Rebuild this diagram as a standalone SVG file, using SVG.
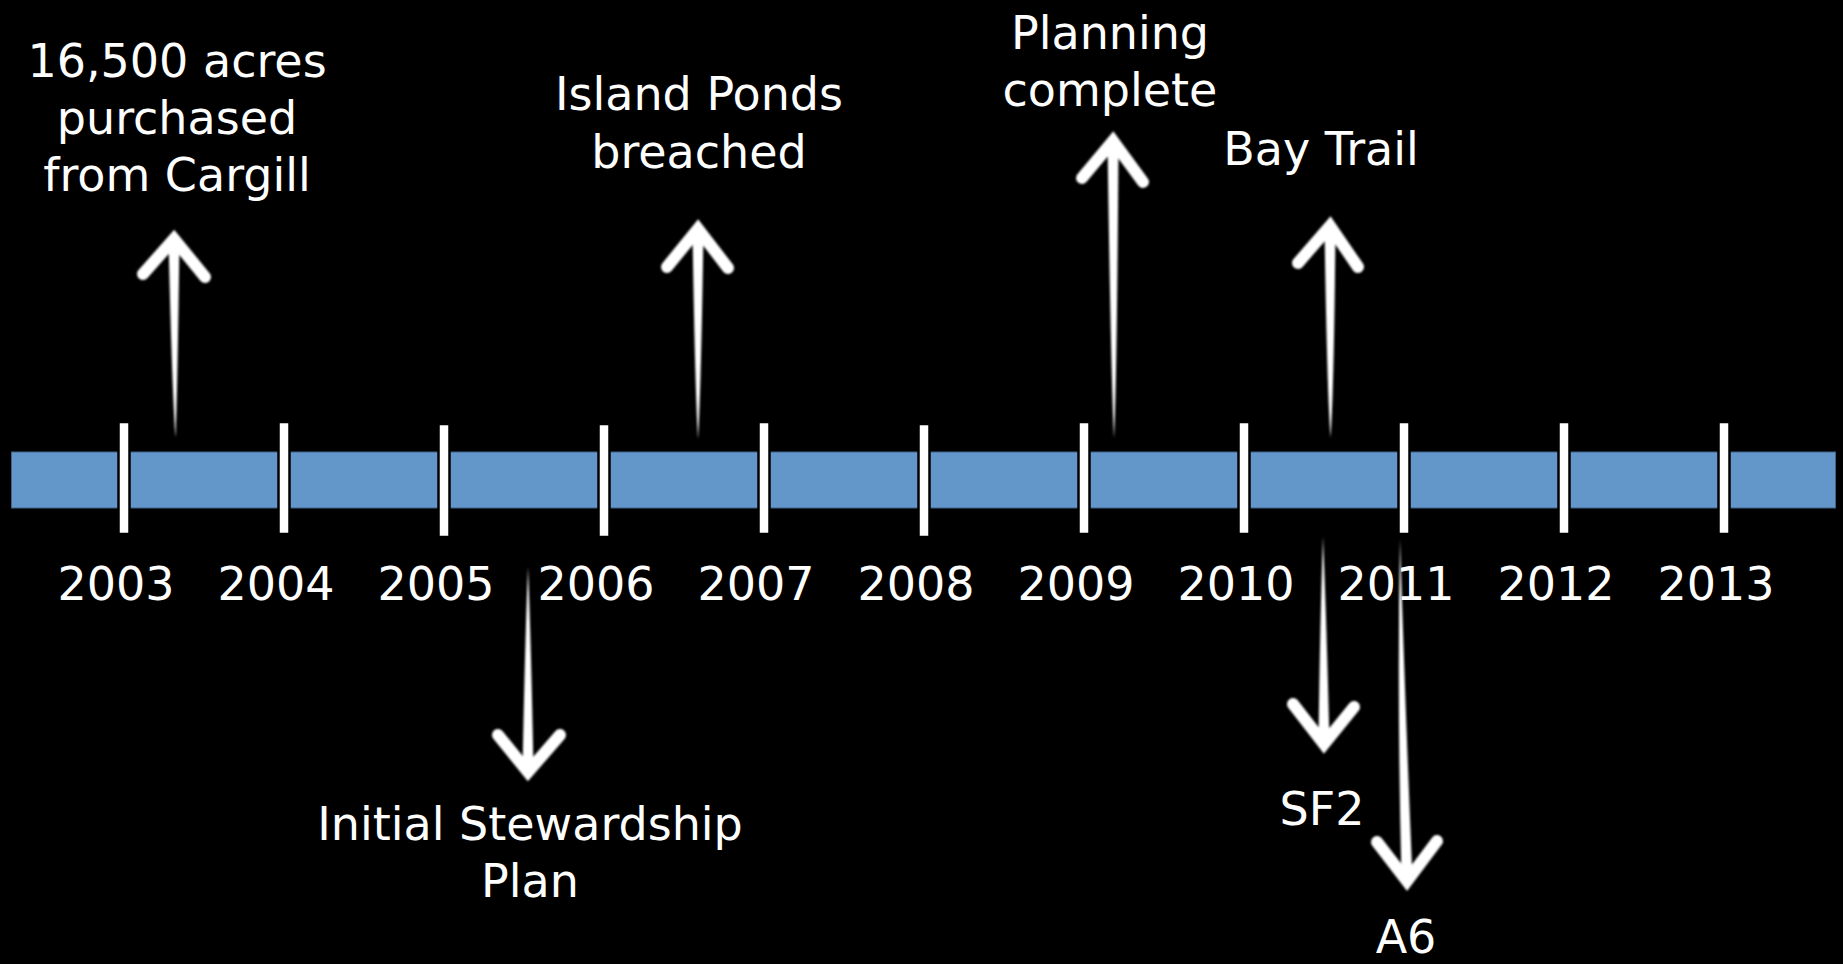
<svg xmlns="http://www.w3.org/2000/svg" width="1843" height="964" viewBox="0 0 1843 964">
<style>
text{font-family:"DejaVu Sans","Liberation Sans",sans-serif;font-size:46px;fill:#fff;text-anchor:middle}
.tick{fill:#fff;stroke:#000;stroke-width:2.5}
.shaft{fill:#fff;stroke:none}
.head{fill:none;stroke:#fff;stroke-width:12;stroke-linejoin:miter;stroke-miterlimit:10;stroke-linecap:round}
</style>
<defs>
<filter id="soft" x="-20%" y="-5%" width="140%" height="110%"><feGaussianBlur stdDeviation="0.8"/></filter>
</defs>
<rect width="1843" height="964" fill="#000"/>
<g id="timeline">
<rect x="11.5" y="452" width="1824" height="56" fill="#6397CA" stroke="#3f6489" stroke-width="1"/>
<rect class="tick" x="118.5" y="422" width="11" height="112"/>
<rect class="tick" x="278.5" y="422" width="11" height="112"/>
<rect class="tick" x="438.5" y="424" width="11" height="113"/>
<rect class="tick" x="598.5" y="424" width="11" height="113"/>
<rect class="tick" x="758.5" y="422" width="11" height="112"/>
<rect class="tick" x="918.5" y="424" width="11" height="113"/>
<rect class="tick" x="1078.5" y="422" width="11" height="112"/>
<rect class="tick" x="1238.5" y="422" width="11" height="112"/>
<rect class="tick" x="1398.5" y="422" width="11" height="112"/>
<rect class="tick" x="1558.5" y="422" width="11" height="112"/>
<rect class="tick" x="1718.5" y="422" width="11" height="112"/>
</g>
<g id="years">
<text x="116" y="600">2003</text>
<text x="276" y="600">2004</text>
<text x="436" y="600">2005</text>
<text x="596" y="600">2006</text>
<text x="756" y="600">2007</text>
<text x="916" y="600">2008</text>
<text x="1076" y="600">2009</text>
<text x="1236" y="600">2010</text>
<text x="1396" y="600">2011</text>
<text x="1556" y="600">2012</text>
<text x="1716" y="600">2013</text>
</g>
<g id="event-cargill">
<text x="177" y="77">16,500 acres</text>
<text x="177" y="134">purchased</text>
<text x="177" y="191">from Cargill</text>
</g>
<g id="event-island-ponds">
<text x="699" y="110">Island Ponds</text>
<text x="699" y="168">breached</text>
</g>
<g id="event-planning">
<text x="1110" y="49">Planning</text>
<text x="1110" y="106">complete</text>
</g>
<g id="event-bay-trail">
<text x="1321" y="165">Bay Trail</text>
</g>
<g id="event-stewardship">
<text x="530" y="840">Initial Stewardship</text>
<text x="530" y="897">Plan</text>
</g>
<g id="event-sf2">
<text x="1322" y="825">SF2</text>
</g>
<g id="event-a6">
<text x="1406" y="953">A6</text>
</g>
<g id="connectors" filter="url(#soft)">
<path class="shaft" d="M168.5,240 L179.5,240 Q177.5,390 175.5,438 Q172,390 168.5,240 Z"/>
<polyline class="head" points="143,274 174,239 205,277"/>
<path class="shaft" d="M692.5,231 L703.5,231 Q701,390 698,439 Q695,390 692.5,231 Z"/>
<polyline class="head" points="667,267 698,229 728,268"/>
<path class="shaft" d="M1107.5,143 L1118.5,143 Q1117,380 1114,438 Q1111,380 1107.5,143 Z"/>
<polyline class="head" points="1082,178 1113,141 1143,182"/>
<path class="shaft" d="M1324.5,228 L1335.5,228 Q1334,390 1330.5,438 Q1327,390 1324.5,228 Z"/>
<polyline class="head" points="1298,263 1330,226 1358,267"/>
<path class="shaft" d="M528,567 Q531,640 533.5,770 L522.5,770 Q525,640 528,567 Z"/>
<polyline class="head" points="498,735 528,772 560,735"/>
<path class="shaft" d="M1323,537 Q1326.5,620 1329.5,742 L1318.5,742 Q1320,620 1323,537 Z"/>
<polyline class="head" points="1293,704 1324,744 1354,707"/>
<path class="shaft" d="M1400,539 Q1405,700 1412.5,879 L1401.5,879 Q1397,700 1400,539 Z"/>
<polyline class="head" points="1377,842 1407,881 1437,841"/>
</g>
</svg>
